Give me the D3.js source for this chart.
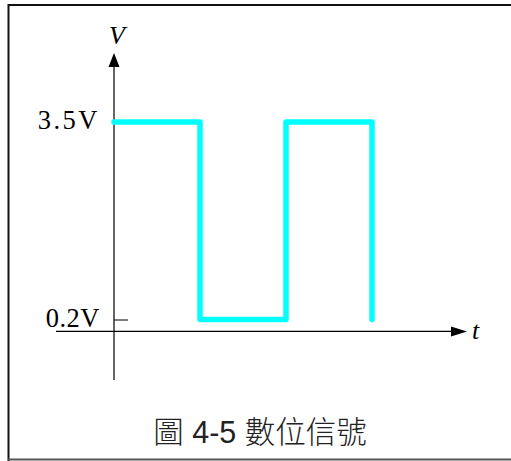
<!DOCTYPE html>
<html>
<head>
<meta charset="utf-8">
<script src="https://cdn.jsdelivr.net/npm/d3@7"></script>
<style>
  html, body { margin: 0; padding: 0; background: #fff; }
  svg { display: block; }
</style>
</head>
<body>
<div class="canvas"></div>
<script>
// signal data: time steps and voltage levels
const times = [0, 1, 1, 2, 2, 3, 3];
const levels = [3.5, 3.5, 0.2, 0.2, 3.5, 3.5, 0.2];
const tickValues = [3.5, 0.2];
const tickLabels = ["3.5V", "0.2V"];
const caption = "圖 4-5 數位信號";

const width = 511;
const height = 461;

const x = d3.scaleLinear().domain([0, 3]).range([114, 372]);
const y = d3.scaleLinear().domain([0.2, 3.5]).range([319.5, 122]);

const svg = d3.select(".canvas").append("svg")
  .attr("width", width)
  .attr("height", height);

// frame
svg.append("path")
  .attr("d", "M8.5,461 V5 H515")
  .attr("fill", "none")
  .attr("stroke", "#111")
  .attr("stroke-width", 2);
svg.append("line")
  .attr("x1", 8).attr("x2", 515)
  .attr("y1", 459.5).attr("y2", 459.5)
  .attr("stroke", "#555")
  .attr("stroke-width", 2);

const x0 = x(0), y0 = y(0);

// axes
svg.append("line")
  .attr("x1", x0).attr("x2", x0)
  .attr("y1", 380).attr("y2", 66)
  .attr("stroke", "#000").attr("stroke-width", 1.2);
svg.append("path")
  .attr("d", `M${x0},53 L${x0 - 5.5},67 L${x0 + 5.5},67 Z`)
  .attr("fill", "#000");

svg.append("line")
  .attr("x1", 56).attr("x2", 452)
  .attr("y1", y0).attr("y2", y0)
  .attr("stroke", "#000").attr("stroke-width", 1.2);
svg.append("path")
  .attr("d", `M467,${y0} L451,${y0 - 5} L451,${y0 + 5} Z`)
  .attr("fill", "#000");

// y ticks
const ticks = svg.append("g")
  .attr("transform", `translate(${x0},0)`)
  .call(d3.axisRight(y).tickValues(tickValues).tickSize(14).tickFormat(""));
ticks.select(".domain").remove();
ticks.selectAll(".tick line").attr("stroke", "#000").attr("stroke-width", 1);

svg.append("g")
  .selectAll("text")
  .data(tickValues)
  .join("text")
    .attr("x", 100)
    .attr("y", d => y(d) + 7)
    .attr("text-anchor", "end")
    .attr("font-family", "Liberation Serif, serif")
    .attr("font-size", 26.5)
    .attr("letter-spacing", (d, i) => i === 0 ? 2.5 : 0.5)
    .text((d, i) => tickLabels[i]);

// axis names
svg.append("text")
  .attr("x", x0 - 5).attr("y", 44)
  .attr("font-family", "Liberation Serif, serif")
  .attr("font-style", "italic")
  .attr("font-size", 26)
  .text("V");
svg.append("text")
  .attr("x", 472).attr("y", y0 + 8)
  .attr("font-family", "Liberation Serif, serif")
  .attr("font-style", "italic")
  .attr("font-size", 26)
  .text("t");

// signal
const line = d3.line()
  .x(d => x(d[0]))
  .y(d => y(d[1]));

svg.append("path")
  .datum(times.map((t, i) => [t, levels[i]]))
  .attr("d", line)
  .attr("fill", "none")
  .attr("stroke", "#00ffff")
  .attr("stroke-width", 5.5)
  .attr("stroke-linecap", "round")
  .attr("stroke-linejoin", "round");

// caption
svg.append("text")
  .attr("x", 260).attr("y", 443)
  .attr("text-anchor", "middle")
  .attr("font-family", "Liberation Sans, Noto Sans CJK TC, sans-serif")
  .attr("font-size", 30.5)
  .attr("font-weight", 300)
  .attr("fill", "#222")
  .text(caption);
</script>
</body>
</html>
